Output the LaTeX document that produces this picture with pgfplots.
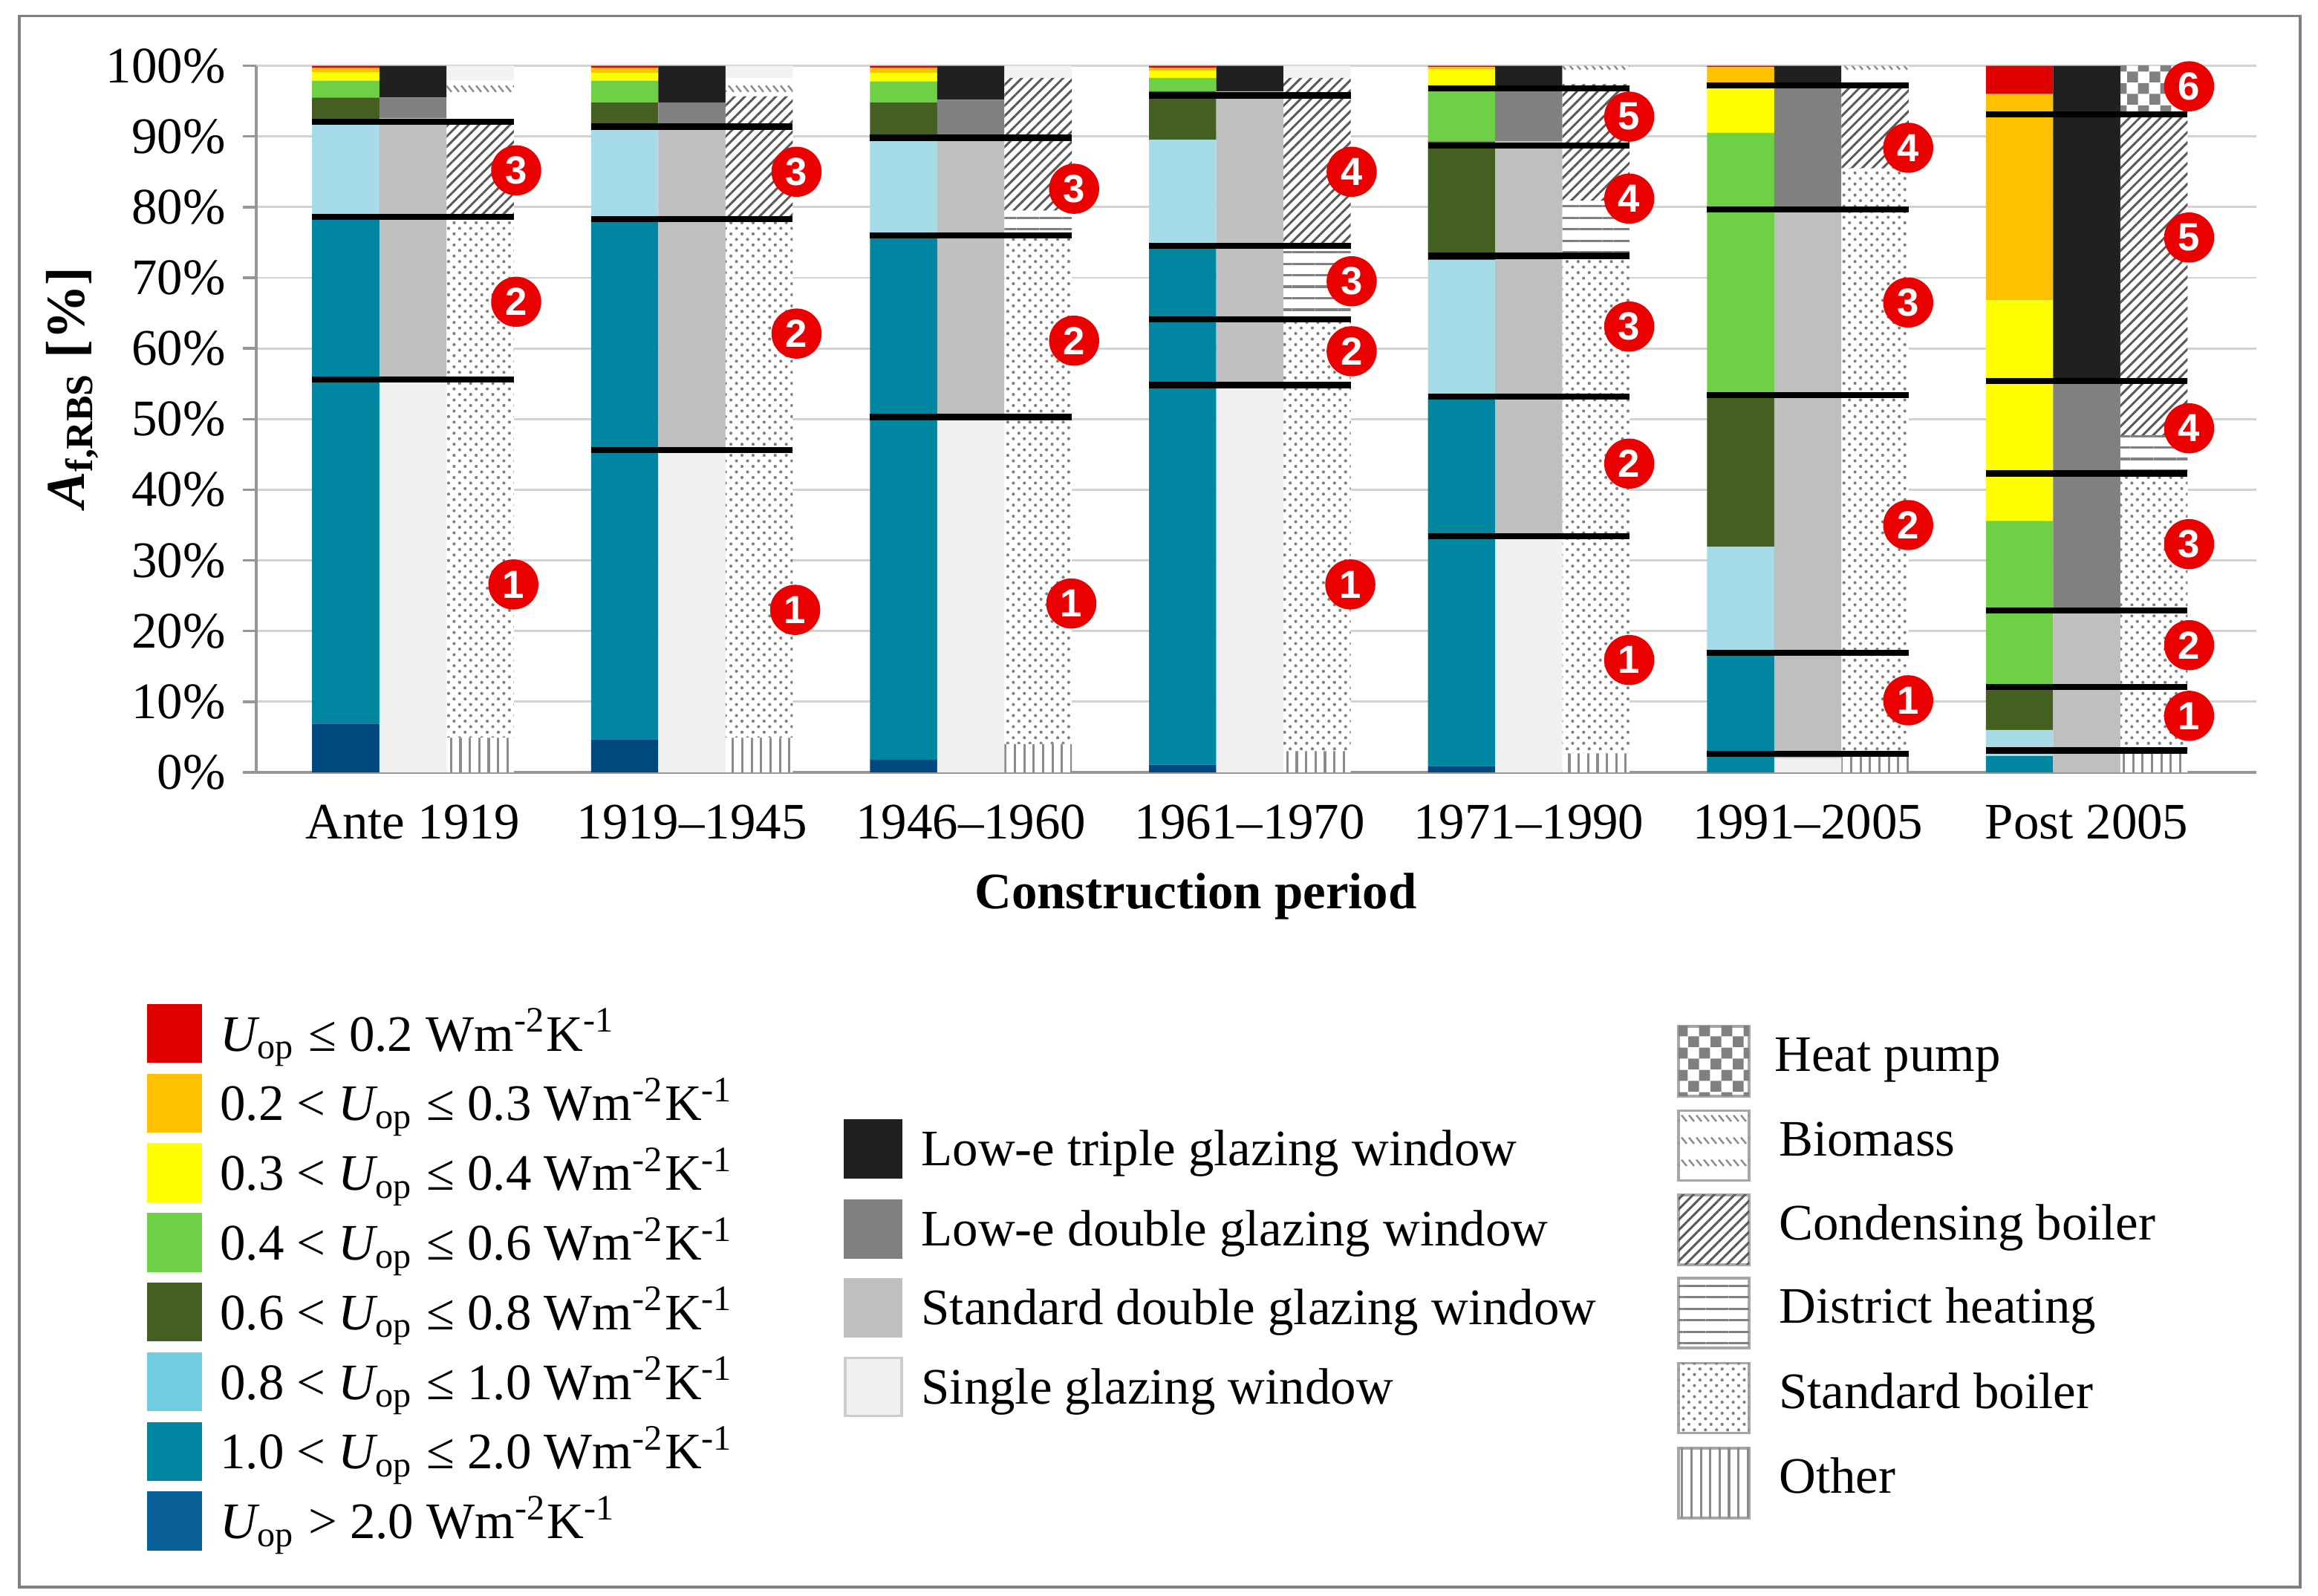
\documentclass[border=0pt]{standalone}
\usepackage{fontspec}
\setmainfont{Liberation Serif}
\newfontfamily\arialf{Liberation Sans}
\usepackage{pgfplots}
\pgfplotsset{compat=1.18}
\usepackage{pgfplotstable}
\usetikzlibrary{patterns,patterns.meta}

\newcommand\fsz{\fontsize{9.8}{11.8}\selectfont}

% bar colours
\definecolor{cu20}{RGB}{0,72,128}
\definecolor{cu12}{RGB}{0,134,160}
\definecolor{cu081}{RGB}{166,219,232}
\definecolor{cu068}{RGB}{68,96,32}
\definecolor{cu046}{RGB}{110,208,68}
\definecolor{cu034}{RGB}{255,255,0}
\definecolor{cu023}{RGB}{255,192,0}
\definecolor{cu02}{RGB}{224,0,0}
\definecolor{wtri}{RGB}{32,32,32}
\definecolor{wlde}{RGB}{128,128,128}
\definecolor{wstd}{RGB}{191,191,191}
\definecolor{wsgl}{RGB}{240,240,240}
% legend colours
\definecolor{lu20}{RGB}{8,94,150}
\definecolor{lu081}{RGB}{114,204,224}
\definecolor{circred}{RGB}{235,0,0}
\definecolor{gridc}{RGB}{210,210,210}
\definecolor{axisc}{RGB}{150,150,150}
\definecolor{framec}{RGB}{128,128,128}

\tikzdeclarepattern{name=hpcheck, type=uncolored,
  bottom left={(0pt,0pt)}, top right={(4.2pt,4.2pt)}, tile size={(4.2pt,4.2pt)},
  code={\fill (0pt,0pt) rectangle (2.1pt,2.1pt); \fill (2.1pt,2.1pt) rectangle (4.2pt,4.2pt);}}
\tikzdeclarepattern{name=biomass, type=uncolored,
  bottom left={(0pt,0pt)}, top right={(1.4pt,4.2pt)}, tile size={(1.4pt,4.2pt)},
  code={\draw[line width=0.35pt] (0.15pt,3.8pt) -- (1.15pt,2.6pt);}}

\tikzset{
 hoth/.style={fill=white, postaction={pattern={Lines[angle=90,distance=1.8pt,line width=0.45pt]}, pattern color=black!45}},
 hstd/.style={fill=white, postaction={pattern={Dots[angle=45,distance=1.5pt,radius=0.3pt]}, pattern color=black!50}},
 hdis/.style={fill=white, postaction={pattern={Lines[angle=0,distance=2.2pt,line width=0.45pt]}, pattern color=black!50}},
 hcon/.style={fill=white, postaction={pattern={Lines[angle=45,distance=1.4pt,line width=0.42pt]}, pattern color=black!65}},
 hgap/.style={fill=white},
 hbio/.style={fill=white, postaction={pattern=biomass, pattern color=black!45}},
 htop/.style={fill=black!5},
 hhp/.style={fill=white, postaction={pattern=hpcheck, pattern color=black!50}},
}

% U-value of the opaque envelope (left bar of each period)
\pgfplotstableread{
x u20 u12 u081 u068 u046 u034 u023 u02
0 6.9 71.6 13.2 3.8 2.4 1.2 0.6 0.3
1 4.7 73.6 12.7 3.8 3.1 1.1 0.7 0.3
2 1.8 74.4 13.6 5.0 3.0 1.2 0.7 0.3
3 1.1 73.2 15.2 6.9 1.9 1.0 0.4 0.3
4 0.9 52.1 19.5 16.8 7.9 2.3 0.3 0.2
5 0.0 16.8 15.1 21.1 37.5 6.9 2.4 0.2
6 0.0 2.3 3.7 5.7 23.9 31.2 29.2 4.0
}\utab

% windows (middle bar)
\pgfplotstableread{
x sgl std lde tri
0 55.4 37.2 2.9 4.5
1 45.6 45.9 3.3 5.2
2 50.3 39.5 5.4 4.8
3 54.7 41.7 0.0 3.6
4 33.2 56.1 7.8 2.9
5 2.0 77.9 17.7 2.4
6 0.0 22.8 32.6 44.6
}\wtab

% heating systems (right bar)
\pgfplotstableread{
x oth std dis con gap bio top hp
0 4.9 74.0 0.0 13.5 2.1 3.4 2.1 0.0
1 4.9 73.4 0.0 17.4 0.5 2.1 1.7 0.0
2 4.0 71.8 3.7 18.8 0.0 0.0 1.7 0.0
3 3.0 60.8 10.7 23.8 0.0 0.0 1.7 0.0
4 2.7 70.8 7.4 16.5 0.0 2.6 0.0 0.0
5 2.7 82.8 0.0 12.1 0.0 2.4 0.0 0.0
6 2.7 39.6 5.4 45.7 0.0 0.0 0.0 6.6
}\htab

% separator lines between refurbishment groups
\pgfplotstableread{
x y
-0.3615 55.6
0.3615 55.6
0 nan
-0.3615 78.6
0.3615 78.6
0 nan
-0.3615 92.1
0.3615 92.1
0 nan
0.6385 45.6
1.3615 45.6
1 nan
0.6385 78.3
1.3615 78.3
1 nan
0.6385 91.4
1.3615 91.4
1 nan
1.6385 50.3
2.3615 50.3
2 nan
1.6385 76.0
2.3615 76.0
2 nan
1.6385 89.8
2.3615 89.8
2 nan
2.6385 54.8
3.3615 54.8
3 nan
2.6385 64.1
3.3615 64.1
3 nan
2.6385 74.5
3.3615 74.5
3 nan
2.6385 95.8
3.3615 95.8
3 nan
3.6385 33.4
4.3615 33.4
4 nan
3.6385 53.2
4.3615 53.2
4 nan
3.6385 73.1
4.3615 73.1
4 nan
3.6385 88.7
4.3615 88.7
4 nan
3.6385 96.8
4.3615 96.8
4 nan
4.6385 2.6
5.3615 2.6
5 nan
4.6385 16.9
5.3615 16.9
5 nan
4.6385 53.4
5.3615 53.4
5 nan
4.6385 79.7
5.3615 79.7
5 nan
4.6385 97.2
5.3615 97.2
5 nan
5.6385 3.1
6.3615 3.1
6 nan
5.6385 12.1
6.3615 12.1
6 nan
5.6385 22.9
6.3615 22.9
6 nan
5.6385 42.3
6.3615 42.3
6 nan
5.6385 55.4
6.3615 55.4
6 nan
5.6385 93.1
6.3615 93.1
}\septab

% numbered group markers
\pgfplotstableread{
x y n
0.370 85.2 3
0.370 66.6 2
0.360 26.6 1
1.375 85.0 3
1.375 62.1 2
1.370 23.0 1
2.370 82.6 3
2.370 61.1 2
2.360 23.9 1
3.365 85.0 4
3.365 69.5 3
3.365 59.6 2
3.360 26.6 1
4.360 92.8 5
4.360 81.2 4
4.360 63.1 3
4.360 43.7 2
4.360 15.9 1
5.360 88.4 4
5.360 66.5 3
5.360 35.0 2
5.360 10.2 1
6.367 97.1 6
6.367 75.7 5
6.367 48.7 4
6.367 32.3 3
6.367 18.0 2
6.367 8.0 1
}\circtab

\pgfplotsset{
 basegeom/.style={at={(1.725cm,-5.2cm)}, anchor=south west, scale only axis,
   width=13.465cm, height=4.757cm, xmin=-0.5618, xmax=6.608, ymin=0, ymax=100},
 hidden/.style={basegeom, hide axis},
}

\begin{document}
\begin{tikzpicture}[font=\fsz]
\path[use as bounding box] (0,0) rectangle (15.605,-10.745);
\draw[framec, line width=0.45pt] (0.13,-0.108) rectangle (15.485,-10.685);

% ---- axis 1: U-values (left bars) + axes, grid, ticks
\begin{axis}[basegeom, ybar stacked, bar width=0.241, bar shift=-0.241,
  axis x line=bottom, axis y line=left,
  axis line style={-, draw=axisc, line width=0.55pt},
  ytick={0,10,...,100}, ymajorgrids, grid style={draw=gridc, line width=0.4pt},
  tick align=outside, major tick length=0.09cm,
  ytick style={draw=axisc, line width=0.5pt},
  xtick={0,...,6},
  xticklabels={Ante 1919, 1919–1945, 1946–1960, 1961–1970, 1971–1990, 1991–2005, Post 2005},
  xtick style={draw=none},
  yticklabel={\pgfmathprintnumber{\tick}\%},
  /pgf/number format/assume math mode=true,
  tick label style={font=\fsz},
  yticklabel style={anchor=east, inner sep=0pt, xshift=-0.11cm},
  xticklabel style={anchor=base, inner sep=0pt, yshift=-0.36cm},
]
\addplot[fill=cu20, draw=none] table[x=x, y=u20] {\utab};
\addplot[fill=cu12, draw=none] table[x=x, y=u12] {\utab};
\addplot[fill=cu081, draw=none] table[x=x, y=u081] {\utab};
\addplot[fill=cu068, draw=none] table[x=x, y=u068] {\utab};
\addplot[fill=cu046, draw=none] table[x=x, y=u046] {\utab};
\addplot[fill=cu034, draw=none] table[x=x, y=u034] {\utab};
\addplot[fill=cu023, draw=none] table[x=x, y=u023] {\utab};
\addplot[fill=cu02, draw=none] table[x=x, y=u02] {\utab};
\end{axis}

% ---- axis 2: windows (middle bars)
\begin{axis}[hidden, ybar stacked, bar width=0.241, bar shift=0]
\addplot[fill=wsgl, draw=none] table[x=x, y=sgl] {\wtab};
\addplot[fill=wstd, draw=none] table[x=x, y=std] {\wtab};
\addplot[fill=wlde, draw=none] table[x=x, y=lde] {\wtab};
\addplot[fill=wtri, draw=none] table[x=x, y=tri] {\wtab};
\end{axis}

% ---- axis 3: heating systems (right bars)
\begin{axis}[hidden, ybar stacked, bar width=0.241, bar shift=0.241]
\addplot[hoth, draw=none] table[x=x, y=oth] {\htab};
\addplot[hstd, draw=none] table[x=x, y=std] {\htab};
\addplot[hdis, draw=none] table[x=x, y=dis] {\htab};
\addplot[hcon, draw=none] table[x=x, y=con] {\htab};
\addplot[hgap, draw=none] table[x=x, y=gap] {\htab};
\addplot[hbio, draw=none] table[x=x, y=bio] {\htab};
\addplot[htop, draw=none] table[x=x, y=top] {\htab};
\addplot[hhp, draw=none] table[x=x, y=hp] {\htab};
\end{axis}

% ---- axis 4: separators and numbered markers
\begin{axis}[hidden, clip=false]
\addplot[black, line width=1.2pt, mark=none, unbounded coords=jump] table[x=x, y=y] {\septab};
\addplot[only marks, mark=*, mark size=4.6pt, mark options={fill=circred, draw=circred},
  point meta=explicit symbolic, nodes near coords,
  every node near coord/.append style={anchor=center, inner sep=0pt, text=white,
     font=\arialf\bfseries\fontsize{7.5}{7.5}\selectfont}]
  table[x=x, y=y, meta=n] {\circtab};
\end{axis}

% ---- axis titles
\node[rotate=90, anchor=base, font=\fontsize{10.5}{12}\selectfont\bfseries] at (0.567,-2.61)
  {{\itshape A}\textsubscript{f,RBS} [\%]};
\node[anchor=base, font=\fsz\bfseries] at (8.05,-6.12) {Construction period};

% ---- legend 1: U-values
\fill[cu02]   (0.988,-6.759) rectangle (1.361,-7.156);
\fill[cu023]  (0.988,-7.228) rectangle (1.361,-7.625);
\fill[cu034]  (0.988,-7.697) rectangle (1.361,-8.094);
\fill[cu046]  (0.988,-8.166) rectangle (1.361,-8.563);
\fill[cu068]  (0.988,-8.635) rectangle (1.361,-9.032);
\fill[lu081]  (0.988,-9.104) rectangle (1.361,-9.501);
\fill[cu12]   (0.988,-9.573) rectangle (1.361,-9.970);
\fill[lu20]   (0.988,-10.042) rectangle (1.361,-10.439);
\node[anchor=base west, inner sep=0pt] at (1.475,-7.076) {{\itshape U}\textsubscript{op} ≤ 0.2 Wm\textsuperscript{-2}K\textsuperscript{-1}};
\node[anchor=base west, inner sep=0pt] at (1.475,-7.545) {0.2 < {\itshape U}\textsubscript{op} ≤ 0.3 Wm\textsuperscript{-2}K\textsuperscript{-1}};
\node[anchor=base west, inner sep=0pt] at (1.475,-8.014) {0.3 < {\itshape U}\textsubscript{op} ≤ 0.4 Wm\textsuperscript{-2}K\textsuperscript{-1}};
\node[anchor=base west, inner sep=0pt] at (1.475,-8.483) {0.4 < {\itshape U}\textsubscript{op} ≤ 0.6 Wm\textsuperscript{-2}K\textsuperscript{-1}};
\node[anchor=base west, inner sep=0pt] at (1.475,-8.952) {0.6 < {\itshape U}\textsubscript{op} ≤ 0.8 Wm\textsuperscript{-2}K\textsuperscript{-1}};
\node[anchor=base west, inner sep=0pt] at (1.475,-9.421) {0.8 < {\itshape U}\textsubscript{op} ≤ 1.0 Wm\textsuperscript{-2}K\textsuperscript{-1}};
\node[anchor=base west, inner sep=0pt] at (1.475,-9.890) {1.0 < {\itshape U}\textsubscript{op} ≤ 2.0 Wm\textsuperscript{-2}K\textsuperscript{-1}};
\node[anchor=base west, inner sep=0pt] at (1.475,-10.359) {{\itshape U}\textsubscript{op} > 2.0 Wm\textsuperscript{-2}K\textsuperscript{-1}};

% ---- legend 2: windows
\fill[wtri] (5.68,-7.533) rectangle (6.074,-7.933);
\fill[wlde] (5.68,-8.075) rectangle (6.074,-8.475);
\fill[wstd] (5.68,-8.603) rectangle (6.074,-9.003);
\filldraw[fill=wsgl, draw=black!20, line width=0.5pt] (5.69,-9.142) rectangle (6.069,-9.532);
\node[anchor=base west, inner sep=0pt] at (6.196,-7.847) {Low-e triple glazing window};
\node[anchor=base west, inner sep=0pt] at (6.196,-8.389) {Low-e double glazing window};
\node[anchor=base west, inner sep=0pt] at (6.196,-8.917) {Standard double glazing window};
\node[anchor=base west, inner sep=0pt] at (6.196,-9.451) {Single glazing window};

% ---- legend 3: heating systems
\draw[black!35, line width=0.5pt, hhp]  (11.30,-6.910) rectangle (11.774,-7.380);
\draw[black!35, line width=0.5pt, hbio] (11.30,-7.477) rectangle (11.774,-7.947);
\draw[black!35, line width=0.5pt, hcon] (11.30,-8.044) rectangle (11.774,-8.514);
\draw[black!35, line width=0.5pt, hdis] (11.30,-8.605) rectangle (11.774,-9.075);
\draw[black!35, line width=0.5pt, hstd] (11.30,-9.177) rectangle (11.774,-9.647);
\draw[black!35, line width=0.5pt, hoth] (11.30,-9.749) rectangle (11.774,-10.219);
\node[anchor=base west, inner sep=0pt] at (11.94,-7.215) {Heat pump};
\node[anchor=base west, inner sep=0pt] at (11.97,-7.782) {Biomass};
\node[anchor=base west, inner sep=0pt] at (11.97,-8.349) {Condensing boiler};
\node[anchor=base west, inner sep=0pt] at (11.97,-8.910) {District heating};
\node[anchor=base west, inner sep=0pt] at (11.97,-9.482) {Standard boiler};
\node[anchor=base west, inner sep=0pt] at (11.97,-10.054) {Other};
\end{tikzpicture}
\end{document}
